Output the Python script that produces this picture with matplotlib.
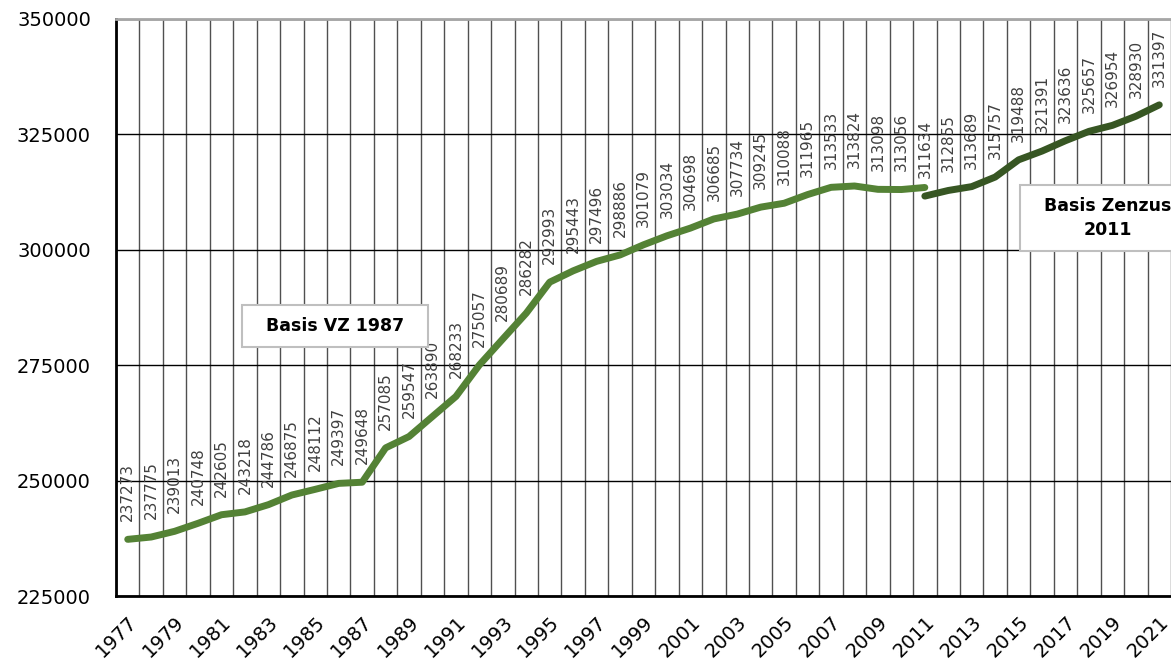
import matplotlib
matplotlib.use('Agg')
import matplotlib.pyplot as plt
import numpy as np

# Einwohner, Basis VZ 1987 (1977-2011) und Basis Zensus 2011 (2011-2021)
years_vz = list(range(1977, 2012))
values_vz = [237273, 237775, 239013, 240748, 242605, 243218, 244786, 246875,
             248112, 249397, 249648, 257085, 259547, 263890, 268233, 275057,
             280689, 286282, 292993, 295443, 297496, 298886, 301079, 303034,
             304698, 306685, 307734, 309245, 310088, 311965, 313533, 313824,
             313098, 313056, 313500]
years_zensus = list(range(2011, 2022))
values_zensus = [311634, 312855, 313689, 315757, 319488, 321391, 323636,
                 325657, 326954, 328930, 331397]

y_ticks = [225000, 250000, 275000, 300000, 325000, 350000]
x_tick_years = list(range(1977, 2022, 2))

plt.rcParams['font.family'] = ['DejaVu Sans']

fig = plt.figure(figsize=(11.71, 6.65), dpi=100)
ax = fig.add_axes([116/1171, 69/665, 1 - 116/1171, 577/665])

ax.plot(years_vz, values_vz, '-', color='#548235', lw=5, solid_capstyle='round', zorder=3)
ax.plot(years_zensus, values_zensus, '-', color='#375623', lw=5, solid_capstyle='round', zorder=3)

# Datenbeschriftungen: VZ-Reihe bis 2010, danach Zensus-Reihe
for x, v in zip(years_vz[:-1], values_vz[:-1]):
    ax.annotate(str(v), (x, v), xytext=(0, 13), textcoords='offset points',
                rotation=90, ha='center', va='bottom', fontsize=11, color='#404040', zorder=4)
for x, v in zip(years_zensus, values_zensus):
    ax.annotate(str(v), (x, v), xytext=(0, 13), textcoords='offset points',
                rotation=90, ha='center', va='bottom', fontsize=11, color='#404040', zorder=4)

box = dict(boxstyle='square,pad=0.7', facecolor='white', edgecolor='#bfbfbf', lw=1.5)
ax.text(1985.85, 283500, '  Basis VZ 1987  ', ha='center', va='center',
        fontsize=12.5, fontweight='bold', bbox=box, zorder=5)
ax.text(2018.8, 306900, '  Basis Zenzus  \n2011', ha='center', va='center',
        fontsize=12.5, fontweight='bold', bbox=box, zorder=5, linespacing=1.4)

ax.set_xlim(1976.5, 2021.13)
ax.set_ylim(225000, 350000)
ax.set_yticks(y_ticks)
ax.set_yticklabels([str(t) for t in y_ticks], fontsize=14)
ax.set_xticks(x_tick_years)
ax.set_xticklabels([str(t) for t in x_tick_years], fontsize=14, rotation=45,
                   ha='right', rotation_mode='anchor')
ax.set_xticks(np.arange(1976.5, 2022, 1), minor=True)
ax.tick_params(axis='both', which='both', length=0)
ax.tick_params(axis='y', pad=18)
ax.tick_params(axis='x', pad=12)

ax.grid(True, axis='y', which='major', color='black', lw=1)
ax.grid(True, axis='x', which='minor', color='#505050', lw=1)
ax.set_axisbelow(True)

ax.spines['left'].set_linewidth(2)
ax.spines['bottom'].set_linewidth(2)
ax.spines['top'].set_color('#a6a6a6')
ax.spines['top'].set_linewidth(2)
ax.spines['right'].set_visible(False)

plt.savefig('out.png', dpi=100)
